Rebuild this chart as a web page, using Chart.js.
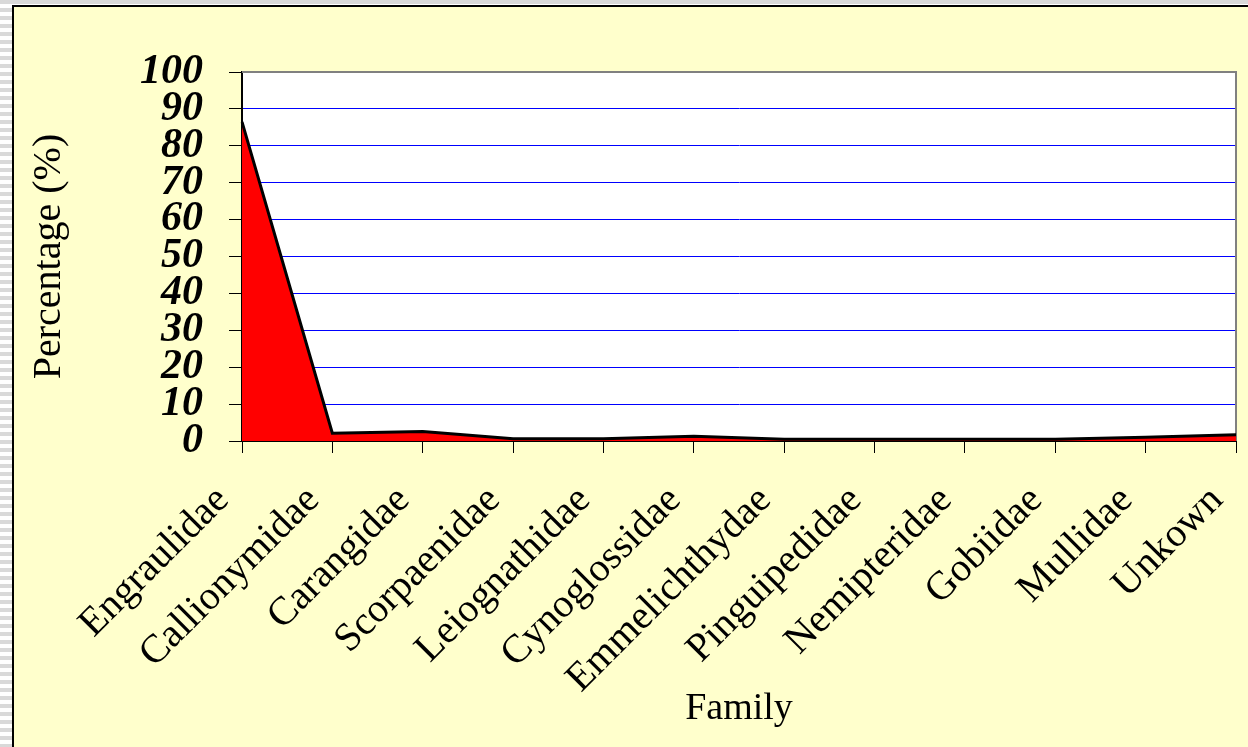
<!DOCTYPE html>
<html>
<head>
<meta charset="utf-8">
<script src="https://cdn.jsdelivr.net/npm/chart.js@4"></script>
<style>
    body {
        margin: 0;
        width: 1248px;
        height: 747px;
        overflow: hidden;
        background: repeating-linear-gradient(to bottom, #d9d9d9 0px, #d9d9d9 4px, #ffffff 4px, #ffffff 8px);
    }
    #frame {
        position: absolute;
        left: 12px;
        top: 5px;
        width: 1300px;
        height: 800px;
        border: 2px solid #000;
        background: #ffffcc;
    }
    #chart {
        position: absolute;
        left: 0;
        top: 0;
    }
</style>
</head>
<body>
<div id="frame"></div>
<canvas id="chart" width="1248" height="747"></canvas>
<script>
// Veriler
const families = [
    'Engraulidae', 'Callionymidae', 'Carangidae', 'Scorpaenidae',
    'Leiognathidae', 'Cynoglossidae', 'Emmelichthydae', 'Pinguipedidae',
    'Nemipteridae', 'Gobiidae', 'Mullidae', 'Unkown'
];
const percentages = [86.5, 2.1, 2.6, 0.6, 0.6, 1.3, 0.5, 0.5, 0.5, 0.5, 1.0, 1.7];
const yTicks = [0, 10, 20, 30, 40, 50, 60, 70, 80, 90, 100];

const serif = '"Liberation Serif", "Times New Roman", serif';

// Çizim alanı arka planı ve gri çerçeve
const plotBox = {
    id: 'plotBox',
    beforeDraw(chart) {
        const { ctx, chartArea: a } = chart;
        ctx.save();
        ctx.fillStyle = '#ffffff';
        ctx.fillRect(a.left, a.top, a.right - a.left, a.bottom - a.top);
        ctx.restore();
    },
    beforeDatasetsDraw(chart) {
        const { ctx, chartArea: a } = chart;
        ctx.save();
        ctx.strokeStyle = '#808080';
        ctx.lineWidth = 2;
        ctx.beginPath();
        ctx.moveTo(a.left, a.top);
        ctx.lineTo(a.right, a.top);
        ctx.lineTo(a.right, a.bottom);
        ctx.stroke();
        ctx.restore();
    }
};

new Chart(document.getElementById('chart'), {
    type: 'line',
    data: {
        labels: families,
        datasets: [{
            data: percentages,
            fill: 'origin',
            backgroundColor: '#ff0000',
            borderColor: '#000000',
            borderWidth: 3,
            pointRadius: 0,
            tension: 0
        }]
    },
    options: {
        responsive: false,
        animation: false,
        layout: { padding: { top: 72, right: 12, left: 0, bottom: 0 } },
        plugins: {
            legend: { display: false },
            tooltip: { enabled: false }
        },
        scales: {
            x: {
                grid: { drawOnChartArea: false, drawTicks: true, tickLength: 12, tickColor: '#000', lineWidth: 1 },
                border: { color: '#000', width: 2 },
                ticks: {
                    autoSkip: false,
                    minRotation: 45,
                    maxRotation: 45,
                    padding: 24,
                    labelOffset: -19,
                    color: '#000',
                    font: { family: serif, size: 40 }
                },
                title: {
                    display: true,
                    text: 'Family',
                    color: '#000',
                    font: { family: serif, size: 38 },
                    padding: { top: 0, bottom: 15 }
                },
                afterFit(scale) {
                    scale.height = 747 - 441;
                    scale.paddingLeft = 0;
                    scale.paddingRight = 0;
                }
            },
            y: {
                min: 0,
                max: 100,
                afterBuildTicks(scale) {
                    scale.ticks = yTicks.map(v => ({ value: v }));
                },
                grid: { color: '#0000ff', lineWidth: 1, drawTicks: true, tickLength: 13, tickColor: '#000' },
                border: { color: '#000', width: 2 },
                ticks: {
                    autoSkip: false,
                    padding: 26,
                    color: '#000',
                    font: { family: serif, size: 42, style: 'italic', weight: 'bold' }
                },
                title: {
                    display: true,
                    text: 'Percentage (%)',
                    color: '#000',
                    font: { family: serif, size: 40 },
                    padding: { top: 25, bottom: 0 }
                },
                afterFit(scale) {
                    scale.width = 242;
                }
            }
        }
    },
    plugins: [plotBox]
});
</script>
</body>
</html>
